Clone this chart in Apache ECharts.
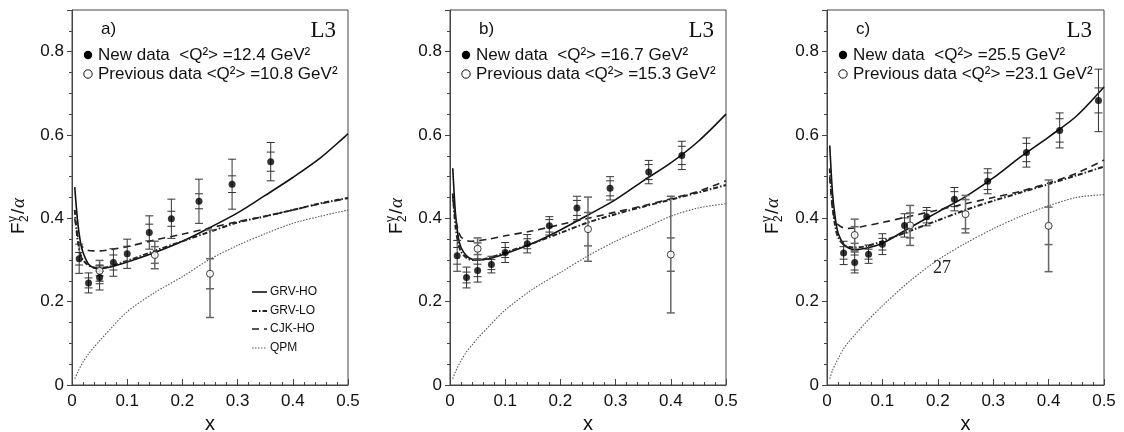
<!DOCTYPE html>
<html><head><meta charset="utf-8">
<script src="https://cdn.jsdelivr.net/npm/echarts@6/dist/echarts.min.js"></script>
<style>html,body{margin:0;padding:0;background:#fff}#c{width:1124px;height:432px}</style>
</head><body><div id="c"></div>
<script>
// ---- data ----
const panelLabels = ['a)', 'b)', 'c)'];
const newQ2 = ['12.4', '16.7', '25.5'];
const prevQ2 = ['10.8', '15.3', '23.1'];
const curveX = [0.005,0.01,0.015,0.02,0.03,0.04,0.05,0.07,0.1,0.15,0.2,0.25,0.3,0.35,0.4,0.45,0.5];

const grvHoA = [0.475,0.395,0.345,0.318,0.29,0.281,0.279,0.283,0.295,0.318,0.345,0.378,0.413,0.455,0.498,0.545,0.603];
const grvLoA = [0.42,0.35,0.315,0.30,0.287,0.282,0.281,0.285,0.298,0.322,0.345,0.368,0.39,0.405,0.42,0.436,0.449];
const cjkA   = [0.40,0.36,0.34,0.33,0.323,0.322,0.322,0.325,0.332,0.348,0.362,0.377,0.392,0.405,0.42,0.435,0.448];
const qpmA   = [0.015,0.03,0.043,0.055,0.075,0.091,0.106,0.135,0.176,0.222,0.26,0.302,0.335,0.363,0.388,0.405,0.42];

const grvHoB = [0.52,0.41,0.355,0.33,0.31,0.302,0.30,0.303,0.315,0.34,0.372,0.408,0.445,0.49,0.533,0.585,0.65];
const grvLoB = [0.46,0.38,0.34,0.32,0.305,0.30,0.30,0.305,0.318,0.34,0.365,0.39,0.41,0.428,0.445,0.462,0.48];
const cjkB   = [0.45,0.40,0.37,0.355,0.347,0.345,0.346,0.35,0.358,0.37,0.385,0.40,0.415,0.43,0.447,0.465,0.49];
const qpmB   = [0.015,0.032,0.046,0.058,0.08,0.096,0.112,0.14,0.18,0.23,0.27,0.31,0.345,0.375,0.405,0.425,0.435];

const grvHoC = [0.575,0.46,0.40,0.365,0.338,0.328,0.325,0.328,0.34,0.378,0.415,0.452,0.497,0.548,0.595,0.645,0.715];
const grvLoC = [0.52,0.43,0.38,0.355,0.337,0.331,0.33,0.333,0.345,0.37,0.395,0.42,0.442,0.462,0.482,0.503,0.524];
const cjkC   = [0.50,0.42,0.395,0.385,0.377,0.376,0.377,0.382,0.39,0.405,0.42,0.435,0.45,0.465,0.485,0.508,0.54];
const qpmC   = [0.015,0.035,0.05,0.063,0.087,0.105,0.12,0.15,0.19,0.25,0.30,0.34,0.375,0.405,0.43,0.45,0.457];

// rows: [x, y, statErr, totalErr]
const newA = [[0.013,0.303,0.015,0.035],[0.03,0.245,0.012,0.024],[0.05,0.258,0.015,0.030],[0.075,0.294,0.018,0.033],[0.1,0.315,0.018,0.035],[0.14,0.366,0.02,0.04],[0.18,0.399,0.018,0.047],[0.23,0.441,0.018,0.053],[0.29,0.482,0.02,0.06],[0.36,0.536,0.023,0.046]];
const prevA = [[0.05,0.274,0.012,0.025],[0.15,0.312,0.02,0.033],[0.25,0.267,0.036,0.105]];
const newB = [[0.013,0.310,0.02,0.037],[0.03,0.258,0.013,0.025],[0.05,0.275,0.015,0.028],[0.075,0.289,0.012,0.020],[0.1,0.318,0.012,0.024],[0.14,0.339,0.012,0.022],[0.18,0.382,0.015,0.022],[0.23,0.425,0.018,0.028],[0.29,0.472,0.018,0.028],[0.36,0.511,0.018,0.028],[0.42,0.551,0.022,0.034]];
const prevB = [[0.05,0.327,0.014,0.026],[0.25,0.374,0.04,0.077],[0.4,0.313,0.04,0.14]];
const newC = [[0.03,0.317,0.015,0.028],[0.05,0.294,0.018,0.025],[0.075,0.314,0.012,0.022],[0.1,0.338,0.014,0.025],[0.14,0.383,0.018,0.028],[0.18,0.404,0.015,0.022],[0.23,0.446,0.018,0.028],[0.29,0.489,0.02,0.03],[0.36,0.558,0.022,0.035],[0.42,0.611,0.028,0.042],[0.49,0.683,0.03,0.075]];
const prevC = [[0.05,0.360,0.02,0.038],[0.15,0.383,0.03,0.048],[0.25,0.410,0.035,0.045],[0.4,0.382,0.045,0.11]];

const modelNames = ['GRV-HO', 'GRV-LO', 'CJK-HO', 'QPM'];
const yTicks = [0, 0.2, 0.4, 0.6, 0.8];

// ---- build ----
const panels = [
  {curves:[grvHoA,grvLoA,cjkA,qpmA], nw:newA, pv:prevA, left:72, width:276},
  {curves:[grvHoB,grvLoB,cjkB,qpmB], nw:newB, pv:prevB, left:450, width:276},
  {curves:[grvHoC,grvLoC,cjkC,qpmC], nw:newC, pv:prevC, left:827, width:277}
];
const FONT = "'Liberation Sans', Arial, sans-serif";
const curveStyles = [
  {color:'#111', width:1.6, type:'solid'},
  {color:'#222', width:2, type:[5,2,1.5,2]},
  {color:'#222', width:1.6, type:[7,5]},
  {color:'#555', width:1.1, type:[1.5,1.5]}
];
const grids=[], xAxes=[], yAxes=[], series=[], graphics=[];
panels.forEach((p,i)=>{
  grids.push({left:p.left, width:p.width, top:10, bottom:47, show:true, borderColor:'#444', borderWidth:1,
    backgroundColor:'transparent', containLabel:false, outerBoundsMode:'none'});
  xAxes.push({type:'value', gridIndex:i, min:0, max:0.5, interval:0.1,
    name:'x', nameLocation:'middle', nameGap:29, nameTextStyle:{fontFamily:FONT, fontSize:20, color:'#111'},
    axisLine:{lineStyle:{color:'#444'}}, splitLine:{show:false},
    axisTick:{inside:true, length:6, lineStyle:{color:'#444'}},
    minorTick:{show:true, splitNumber:5, length:3, lineStyle:{color:'#444'}},
    axisLabel:{fontFamily:FONT, fontSize:17, color:'#111', margin:8}});
  yAxes.push({type:'value', gridIndex:i, min:0, max:0.9, interval:0.2,
    axisLine:{show:true, lineStyle:{color:'#444'}}, splitLine:{show:false},
    axisTick:{inside:false, length:5, lineStyle:{color:'#444'}},
    minorTick:{show:true, splitNumber:4, length:3, lineStyle:{color:'#444'}},
    axisLabel:{fontFamily:FONT, fontSize:17, color:'#111', margin:8, showMaxLabel:false,
      formatter:v=> yTicks.some(t=>Math.abs(t-v)<1e-6) ? String(+v.toFixed(1)) : ''}});
  p.curves.forEach((arr,k)=>{
    series.push({type:'line', name:modelNames[k], xAxisIndex:i, yAxisIndex:i, showSymbol:false, smooth:0.3,
      data: curveX.map((x,j)=>[x,arr[j]]), lineStyle:curveStyles[k], z:2, silent:true});
  });
  const eb = (data,color,w)=>({type:'custom', xAxisIndex:i, yAxisIndex:i, z:3, silent:true,
    encode:{x:0,y:1}, data:data,
    renderItem:(params,api)=>{
      const x=api.value(0), y=api.value(1), s=api.value(2), t=api.value(3);
      const a=api.coord([x,y+t]), b=api.coord([x,y-t]), c=api.coord([x,y+s]), d=api.coord([x,y-s]);
      const hw=4, st={stroke:color, lineWidth:w};
      const ln=(x1,y1,x2,y2)=>({type:'line', shape:{x1,y1,x2,y2}, style:st});
      return {type:'group', children:[
        ln(a[0],a[1],b[0],b[1]),
        ln(a[0]-hw,a[1],a[0]+hw,a[1]), ln(b[0]-hw,b[1],b[0]+hw,b[1]),
        ln(c[0]-hw,c[1],c[0]+hw,c[1]), ln(d[0]-hw,d[1],d[0]+hw,d[1])]};
    }});
  series.push(eb(p.pv,'#666',1.5));
  series.push(eb(p.nw,'#333',1));
  series.push({type:'scatter', xAxisIndex:i, yAxisIndex:i, z:5, symbol:'circle', symbolSize:7,
    data:p.pv.map(r=>[r[0],r[1]]), itemStyle:{color:'#fff', borderColor:'#111', borderWidth:1}});
  series.push({type:'scatter', xAxisIndex:i, yAxisIndex:i, z:5, symbol:'circle', symbolSize:7,
    data:p.nw.map(r=>[r[0],r[1]]), itemStyle:{color:'#000'}});

  // texts
  const L=p.left, R=p.left+p.width;
  graphics.push({type:'text', left:L+29, top:21, style:{text:panelLabels[i], font:'17px '+FONT, fill:'#111'}});
  graphics.push({type:'text', right:1124-R+12, top:19, style:{text:'L3', font:'23px "Liberation Serif", serif', fill:'#111'}});
  graphics.push({type:'circle', shape:{cx:L+16, cy:55, r:4.2}, style:{fill:'#000'}});
  graphics.push({type:'circle', shape:{cx:L+16, cy:74, r:4.2}, style:{fill:'#fff', stroke:'#111', lineWidth:1}});
  graphics.push({type:'text', x:L+26, y:55, style:{text:'New data  <Q²> ='+newQ2[i]+' GeV²', font:'17px '+FONT, fill:'#111', verticalAlign:'middle'}});
  graphics.push({type:'text', x:L+26, y:74, style:{text:'Previous data <Q²> ='+prevQ2[i]+' GeV²', font:'17px '+FONT, fill:'#111', verticalAlign:'middle'}});
  // y axis title
  const cx = [19,397,773][i];
  graphics.push({type:'group', x:cx, y:215, rotation:Math.PI/2, children:[
    {type:'text', x:-19, y:0, style:{text:'F', font:'19px '+FONT, fill:'#111', verticalAlign:'middle'}},
    {type:'text', x:-7, y:-6, style:{text:'γ', font:'12px '+FONT, fill:'#111', verticalAlign:'middle'}},
    {type:'text', x:-7, y:6, style:{text:'2', font:'12px '+FONT, fill:'#111', verticalAlign:'middle'}},
    {type:'text', x:1, y:0, style:{text:'/', font:'19px '+FONT, fill:'#111', verticalAlign:'middle'}},
    {type:'text', x:7, y:0, style:{text:'α', font:'italic 19px "Liberation Serif", serif', fill:'#111', verticalAlign:'middle'}}
  ]});
});
// model legend (panel a)
const legY = [292, 311, 329, 348];
modelNames.forEach((n,k)=>{
  graphics.push({type:'line', shape:{x1:252, y1:legY[k], x2:267, y2:legY[k]},
    style:{stroke:curveStyles[k].color, lineWidth:curveStyles[k].width, lineDash: curveStyles[k].type==='solid'?null:curveStyles[k].type}});
  graphics.push({type:'text', x:270, y:legY[k], style:{text:n, font:'12px '+FONT, fill:'#111', verticalAlign:'middle'}});
});
graphics.push({type:'text', x:933, y:259, style:{text:'27', font:'18px "Liberation Serif", serif', fill:'#222'}});

const chart = echarts.init(document.getElementById('c'), null, {renderer:'canvas'});
chart.setOption({animation:false, backgroundColor:'#fff', grid:grids, xAxis:xAxes, yAxis:yAxes, series:series, graphic:graphics});
</script></body></html>
